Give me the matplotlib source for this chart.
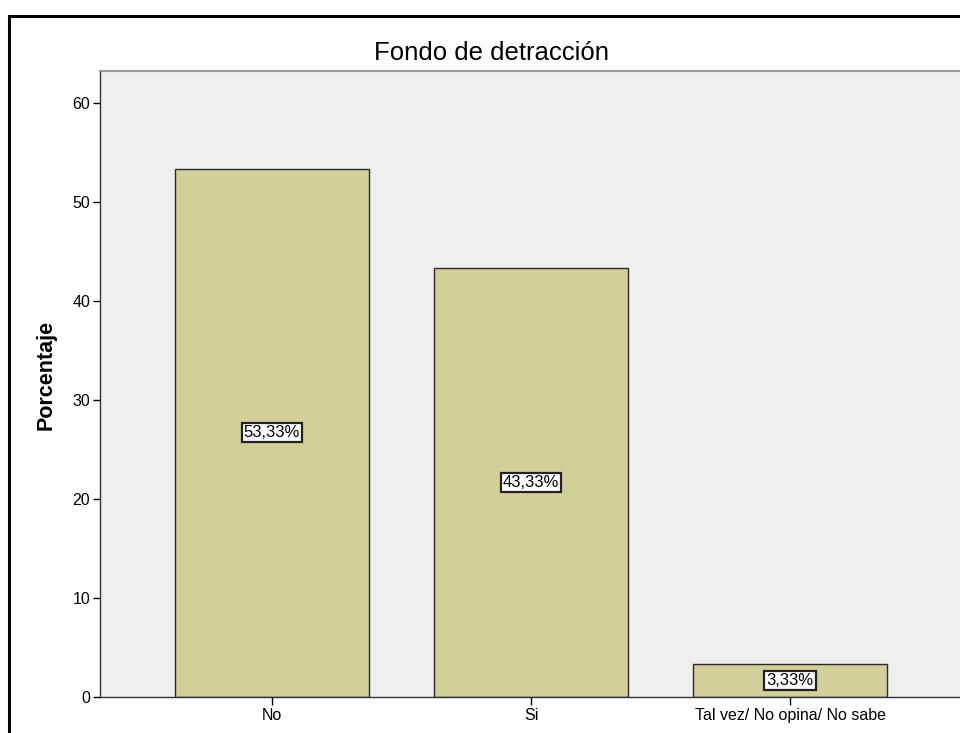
import matplotlib.pyplot as plt
from matplotlib.patches import Rectangle

categories = ['No', 'Si', 'Tal vez/ No opina/ No sabe']
percentages = [53.33, 43.33, 3.33]
value_labels = ['53,33%', '43,33%', '3,33%']
y_ticks = [0, 10, 20, 30, 40, 50, 60]

plt.rcParams['font.family'] = ['Liberation Sans', 'DejaVu Sans']

fig = plt.figure(figsize=(9.6, 7.33), dpi=100)
fig.patch.set_facecolor('white')

# outer frame, cut off at right and bottom like the original screenshot
fig.patches.append(Rectangle((9 / 960, -0.05), 1.1, 1 - 16 / 733 + 0.05,
                             transform=fig.transFigure, fill=False,
                             edgecolor='black', linewidth=2.2, zorder=0))

ax = fig.add_axes([100 / 960, 1 - 697 / 733, 862 / 960, (697 - 71) / 733])
ax.set_facecolor('#efefef')

x = range(len(categories))
ax.bar(x, percentages, width=0.75, color='#d3cf99', edgecolor='#2b2b2b',
       linewidth=1.0, zorder=2)

for i, (v, lab) in enumerate(zip(percentages, value_labels)):
    ax.text(i, v / 2, lab, ha='center', va='center', fontsize=12, zorder=3,
            bbox=dict(boxstyle='square,pad=0.12', facecolor='white',
                      edgecolor='#222222', linewidth=1.6))

ax.set_xlim(-0.664, 2.664)
ax.set_ylim(0, 63.2)
ax.set_xticks(list(x))
ax.set_xticklabels(categories, fontsize=11.5)
ax.set_yticks(y_ticks)
ax.tick_params(axis='y', labelsize=11.5, length=5, width=1, direction='out', pad=2)
ax.tick_params(axis='x', length=6, width=1, direction='out', pad=2)

for s in ['left', 'bottom']:
    ax.spines[s].set_color('#333333')
    ax.spines[s].set_linewidth(1.0)
ax.spines['top'].set_color('#999999')
ax.spines['top'].set_linewidth(1.5)
ax.spines['right'].set_visible(False)

fig.text(492 / 960, 1 - 53 / 733, 'Fondo de detracción', fontsize=18.5,
         ha='center', va='center')
fig.text(46 / 960, 1 - 375 / 733, 'Porcentaje', fontsize=15.5, fontweight='bold',
         rotation=90, ha='center', va='center')

fig.savefig('out.png', dpi=100)
